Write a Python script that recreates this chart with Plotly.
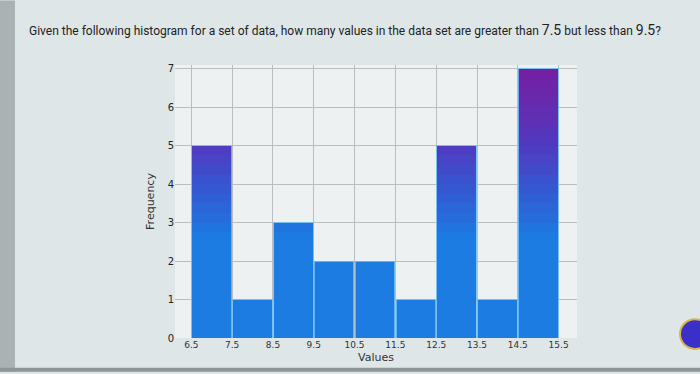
import plotly.graph_objects as go

bin_starts = [6.5, 7.5, 8.5, 9.5, 10.5, 11.5, 12.5, 13.5, 14.5]
counts = [5, 1, 3, 2, 2, 1, 5, 1, 7]
x_ticks = [6.5, 7.5, 8.5, 9.5, 10.5, 11.5, 12.5, 13.5, 14.5, 15.5]
y_ticks = [0, 1, 2, 3, 4, 5, 6, 7]
title_text = ("Given the following histogram for a set of data, how many values in the data set are greater than "
              "<span style='font-size:14px'>7.5</span> but less than <span style='font-size:14px'>9.5</span>?")

centers = [s + 0.5 for s in bin_starts]

def lerp(c1, c2, t):
    return "rgb(%d,%d,%d)" % tuple(round(a + (b - a) * t) for a, b in zip(c1, c2))

stops = [(0.0, (28, 124, 226)), (2.6, (28, 124, 226)), (4.0, (55, 85, 208)),
         (5.0, (80, 58, 192)), (7.0, (118, 30, 160))]

def grad(h):
    for (h0, c0), (h1, c1) in zip(stops, stops[1:]):
        if h <= h1:
            return lerp(c0, c1, (h - h0) / (h1 - h0))
    return lerp(stops[-1][1], stops[-1][1], 0)

step = 0.25
n_seg = int(round(max(counts) / step))
X_RANGE = [6.1, 15.95]
Y_RANGE = [0, 7.1]

fig = go.Figure()
for k in range(n_seg):
    lo = k * step
    seg = [max(0.0, min(step, c - lo)) for c in counts]
    fig.add_trace(go.Bar(x=centers, y=seg, width=0.97,
                         marker=dict(color=grad(lo + step / 2), line=dict(width=0)),
                         showlegend=False, hoverinfo="skip"))
# outline of each bar, on an overlaid twin axis so it does not stack
fig.add_trace(go.Bar(x=centers, y=counts, width=0.97, xaxis="x2", yaxis="y2",
                     marker=dict(color="rgba(0,0,0,0)", line=dict(color="rgba(110,190,245,0.85)", width=1)),
                     showlegend=False, hoverinfo="skip"))

L, R, T, B = 175, 123, 65, 34
PW, PH = 700 - L - R, 374 - T - B

def px(x):
    return (x - L) / PW

def py(y):
    return (374 - B - y) / PH

fig.update_layout(
    barmode="stack",
    width=700, height=374,
    margin=dict(l=L, r=R, t=T, b=B),
    paper_bgcolor="#dfe6e8",
    plot_bgcolor="#edf1f2",
    font=dict(family="DejaVu Sans, sans-serif", color="#222"),
    xaxis=dict(range=X_RANGE, tickvals=x_ticks, ticktext=[str(v) for v in x_ticks],
               showgrid=True, gridcolor="#b9bec0", gridwidth=1, zeroline=False,
               tickfont=dict(size=9, color="#333"),
               title=dict(text="Values", font=dict(size=11, color="#333"), standoff=4)),
    yaxis=dict(range=Y_RANGE, tickvals=y_ticks, showgrid=True, gridcolor="#b9bec0", gridwidth=1,
               zeroline=False, tickfont=dict(size=10, color="#222"),
               title=dict(text="Frequency", font=dict(size=11, color="#333"), standoff=10)),
    xaxis2=dict(range=X_RANGE, overlaying="x", visible=False),
    yaxis2=dict(range=Y_RANGE, overlaying="y", visible=False),
    annotations=[dict(text=title_text, x=px(27), y=py(30), xref="paper", yref="paper", showarrow=False,
                      xanchor="left", yanchor="middle", font=dict(size=12, family="Roboto", color="#222"))],
)

fig.add_shape(type="rect", xref="paper", yref="paper",
              x0=px(0), x1=px(15), y0=py(374), y1=py(0),
              fillcolor="#aab2b4", line=dict(width=0), layer="below")
fig.add_shape(type="rect", xref="paper", yref="paper",
              x0=px(0), x1=px(700), y0=py(374), y1=py(370),
              fillcolor="#8c9698", line=dict(width=0), layer="below")
fig.add_shape(type="circle", xref="paper", yref="paper",
              x0=px(680), x1=px(710), y0=py(351), y1=py(321),
              fillcolor="#3b2fc9", line=dict(color="#d7b54a", width=2))

fig.write_html("out.html", config={"displayModeBar": False},
               post_script="document.body.style.margin='0';document.body.style.overflow='hidden';")
